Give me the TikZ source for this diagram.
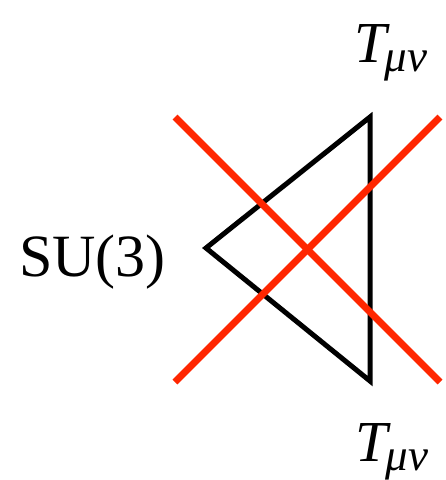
\documentclass[tikz,border=0pt]{standalone}
\usepackage{fontspec}
\setmainfont{Liberation Serif}
\definecolor{xred}{RGB}{255,38,0}
\newcommand{\tmunu}{\fontsize{58}{58}\selectfont\itshape T\kern-2pt\raisebox{-9pt}{\fontsize{45}{45}\selectfont μν}}
\begin{document}
\begin{tikzpicture}[x=1pt,y=-1pt,
  tri/.style={line width=5pt,line join=miter,black},
  cross/.style={line width=7pt,xred},
  lab/.style={inner sep=0pt,anchor=base west,font=\fontsize{60}{60}\selectfont}]
\useasboundingbox (0,0) rectangle (446,480);
\coordinate (L) at (206,248);
\coordinate (TR) at (370,117);
\coordinate (BR) at (370,381);
\draw[tri] (L) -- (TR) -- (BR) -- cycle;
\coordinate (a1) at (175,117);
\coordinate (a2) at (440,382);
\coordinate (b1) at (175,382);
\coordinate (b2) at (440,117);
\draw[cross] (a1) -- (a2);
\draw[cross] (b1) -- (b2);
\node[lab] (su) at (19,276) {SU(3)};
\node[lab] (ttop) at (354,62) {\tmunu};
\node[lab] (tbot) at (355,461) {\tmunu};
\end{tikzpicture}
\end{document}
